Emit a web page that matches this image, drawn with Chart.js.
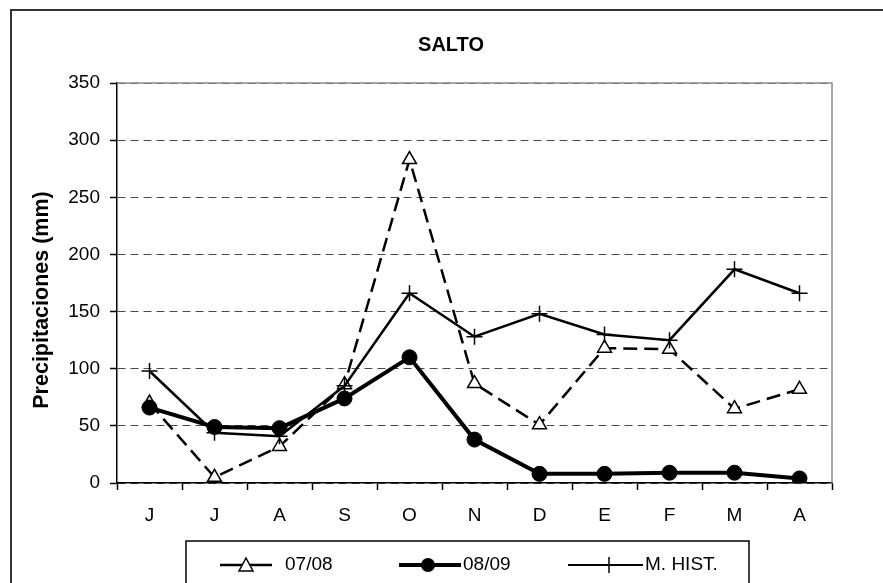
<!DOCTYPE html>
<html>
<head>
<meta charset="utf-8">
<script src="https://cdn.jsdelivr.net/npm/chart.js@4/dist/chart.umd.min.js"></script>
<style>
  html, body { margin: 0; padding: 0; background: #fff; }
  #wrap { width: 883px; height: 583px; }
</style>
</head>
<body>
<div id="wrap"><canvas id="c" width="883" height="583"></canvas></div>
<script>
// Monthly rainfall, Salto (mm)
const months = ['J', 'J', 'A', 'S', 'O', 'N', 'D', 'E', 'F', 'M', 'A'];
const serie0708 = [70, 5, 32, 86, 283, 87, 51, 118, 117, 65, 82];
const serie0809 = [66, 49, 48, 74, 110, 38, 8, 8, 9, 9, 4];
const mediaHist = [98, 44, 41, 85, 166, 128, 148, 130, 125, 187, 166];
const yMin = 0, yMax = 350, yStep = 50;
const seriesNames = ['07/08', '08/09', 'M. HIST.'];

const FONT = '"Liberation Sans", Arial, sans-serif';

// Frame, titles and the boxed legend under the plot
const decorations = {
  id: 'decorations',
  afterDraw(chart) {
    const ctx = chart.ctx;
    const a = chart.chartArea;
    ctx.save();

    // grey frame on the top and right of the plot area
    ctx.strokeStyle = '#8c8c8c';
    ctx.lineWidth = 1.5;
    ctx.setLineDash([]);
    ctx.beginPath();
    ctx.moveTo(a.left, a.top);
    ctx.lineTo(a.right, a.top);
    ctx.lineTo(a.right, a.bottom);
    ctx.stroke();

    // outer chart border
    ctx.strokeStyle = '#333';
    ctx.lineWidth = 2;
    ctx.beginPath();
    ctx.moveTo(11, 600);
    ctx.lineTo(11, 10);
    ctx.lineTo(900, 10);
    ctx.stroke();

    // title
    ctx.fillStyle = '#000';
    ctx.font = 'bold 20px ' + FONT;
    ctx.textAlign = 'center';
    ctx.textBaseline = 'middle';
    ctx.fillText('SALTO', 451, 45);

    // y-axis title
    ctx.save();
    ctx.translate(42, 300);
    ctx.rotate(-Math.PI / 2);
    ctx.font = 'bold 21.5px ' + FONT;
    ctx.fillText('Precipitaciones (mm)', 0, 0);
    ctx.restore();

    // legend box
    ctx.strokeStyle = '#000';
    ctx.lineWidth = 1.5;
    ctx.strokeRect(186, 541, 563, 80);

    const ly = 565;
    ctx.font = '19px ' + FONT;
    ctx.textAlign = 'left';
    ctx.textBaseline = 'middle';

    // 07/08
    ctx.strokeStyle = '#000';
    ctx.lineWidth = 2.5;
    ctx.beginPath(); ctx.moveTo(220, ly); ctx.lineTo(272, ly); ctx.stroke();
    ctx.lineWidth = 1.5;
    ctx.fillStyle = '#fff';
    ctx.beginPath();
    ctx.moveTo(246, ly - 7); ctx.lineTo(253, ly + 6); ctx.lineTo(239, ly + 6); ctx.closePath();
    ctx.fill(); ctx.stroke();
    ctx.fillStyle = '#000';
    ctx.fillText(seriesNames[0], 285, ly);

    // 08/09
    ctx.lineWidth = 4;
    ctx.beginPath(); ctx.moveTo(399, ly); ctx.lineTo(461, ly); ctx.stroke();
    ctx.beginPath(); ctx.arc(428, ly, 7, 0, Math.PI * 2); ctx.fill();
    ctx.fillText(seriesNames[1], 463, ly);

    // M. HIST.
    ctx.lineWidth = 2;
    ctx.beginPath(); ctx.moveTo(568, ly); ctx.lineTo(643, ly); ctx.stroke();
    ctx.lineWidth = 1.5;
    ctx.beginPath(); ctx.moveTo(609, ly - 8); ctx.lineTo(609, ly + 8); ctx.stroke();
    ctx.fillText(seriesNames[2], 645, ly);

    ctx.restore();
  }
};

new Chart(document.getElementById('c'), {
  type: 'line',
  data: {
    labels: months,
    datasets: [
      {
        label: seriesNames[0],
        data: serie0708,
        borderColor: '#000',
        borderWidth: 2.5,
        borderDash: [14, 7],
        pointStyle: 'triangle',
        pointRadius: 8,
        pointBackgroundColor: '#fff',
        pointBorderColor: '#000',
        pointBorderWidth: 1.5,
        tension: 0,
        fill: false,
        order: 3
      },
      {
        label: seriesNames[1],
        data: serie0809,
        borderColor: '#000',
        borderWidth: 4,
        pointStyle: 'circle',
        pointRadius: 7.5,
        pointBackgroundColor: '#000',
        pointBorderColor: '#000',
        pointBorderWidth: 1,
        tension: 0,
        fill: false,
        order: 1
      },
      {
        label: seriesNames[2],
        data: mediaHist,
        borderColor: '#000',
        borderWidth: 2.5,
        pointStyle: 'cross',
        pointRadius: 8,
        pointBorderColor: '#000',
        pointBorderWidth: 1.5,
        tension: 0,
        fill: false,
        order: 2
      }
    ]
  },
  options: {
    responsive: false,
    animation: false,
    devicePixelRatio: 1,
    layout: { padding: { top: 83, right: 51, left: 0, bottom: 0 } },
    plugins: {
      legend: { display: false },
      title: { display: false },
      tooltip: { enabled: false }
    },
    scales: {
      x: {
        offset: true,
        grid: {
          offset: true,
          drawOnChartArea: false,
          drawTicks: true,
          tickLength: 7,
          tickColor: '#000',
          tickWidth: 1.5
        },
        border: { color: '#000', width: 1.5 },
        ticks: { color: '#000', font: { family: FONT, size: 19 }, padding: 14, maxRotation: 0 },
        afterFit(scale) { scale.height = 100; }
      },
      y: {
        min: yMin,
        max: yMax,
        ticks: { stepSize: yStep, color: '#000', font: { family: FONT, size: 19 }, padding: 10 },
        grid: {
          color: '#4a4a4a',
          lineWidth: 1,
          borderDash: [8, 5],
          tickLength: 7,
          tickColor: '#000',
          tickWidth: 1.5,
          tickBorderDash: []
        },
        border: { color: '#000', width: 1.5, dash: [8, 5] },
        afterFit(scale) { scale.width = 117; }
      }
    }
  },
  plugins: [decorations]
});
</script>
</body>
</html>
